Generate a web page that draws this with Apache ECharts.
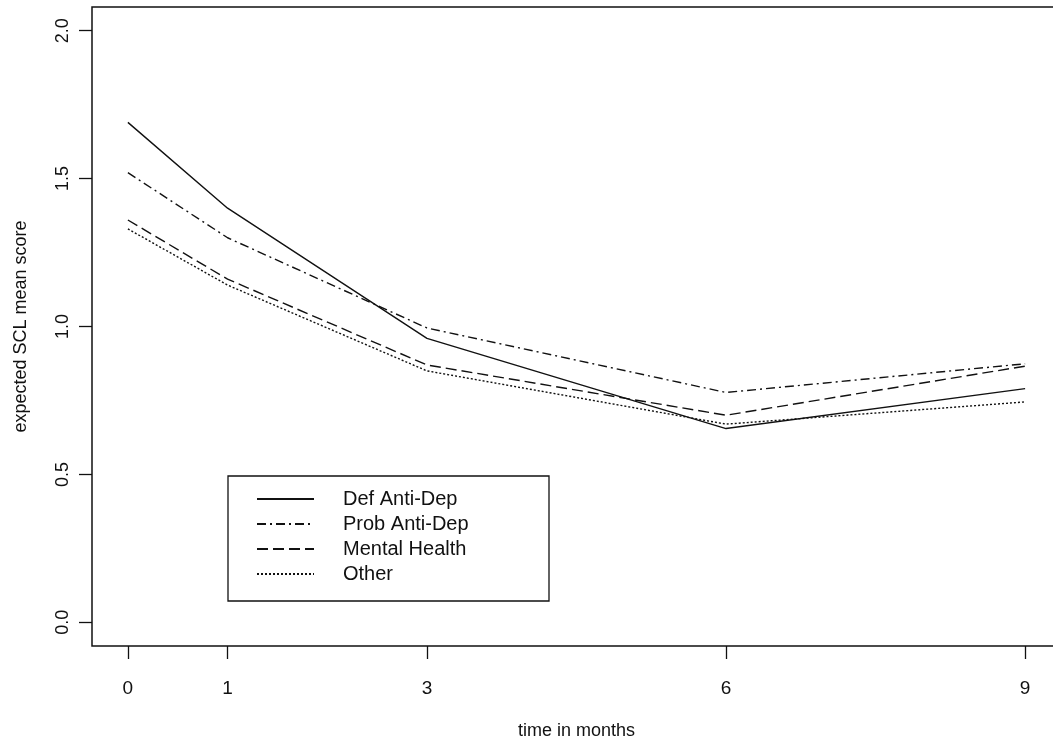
<!DOCTYPE html>
<html>
<head>
<meta charset="utf-8">
<script src="https://cdn.jsdelivr.net/npm/echarts@6/dist/echarts.min.js"></script>
<style>
  html, body { margin: 0; padding: 0; background: #fff; }
  #chart { width: 1053px; height: 742px; }
</style>
</head>
<body>
<div id="chart"></div>
<script>
// months of follow-up
const months = [0, 1, 3, 6, 9];
// expected SCL mean score per group
const defAntiDep = [1.69, 1.40, 0.96, 0.655, 0.79];
const probAntiDep = [1.52, 1.30, 0.995, 0.777, 0.874];
const mentalHealth = [1.36, 1.16, 0.87, 0.70, 0.866];
const other = [1.33, 1.14, 0.85, 0.67, 0.745];
const yTicks = [0, 0.5, 1.0, 1.5, 2.0];

const font = 'Liberation Sans, Arial, Helvetica, sans-serif';
const ink = '#111';

function pairs(ys) {
    return months.map((m, i) => [m, ys[i]]);
}

function line(name, ys, type) {
    return {
        name: name,
        type: 'line',
        data: pairs(ys),
        symbol: 'none',
        silent: true,
        itemStyle: { color: ink },
        lineStyle: { color: ink, width: 1.4, type: type }
    };
}

const chart = echarts.init(document.getElementById('chart'));
chart.setOption({
    animation: false,
    backgroundColor: '#fff',
    grid: {
        left: 92, top: 7, width: 969, height: 639,
        outerBoundsMode: 'none', containLabel: false,
        show: true, borderColor: ink, borderWidth: 1.5, backgroundColor: 'transparent'
    },
    legend: {
        left: 228, top: 476, orient: 'vertical',
        padding: [13, 14, 17, 28],
        itemWidth: 57, itemHeight: 20, itemGap: 5,
        borderColor: ink, borderWidth: 1.3, borderRadius: 0,
        selectedMode: false,
        itemStyle: { opacity: 0 },
        textStyle: { fontFamily: font, fontSize: 20, color: ink, lineHeight: 20, width: 192, padding: [0, 0, 0, 24] },
        data: ['Def Anti-Dep', 'Prob Anti-Dep', 'Mental Health', 'Other']
    },
    xAxis: {
        type: 'value', min: -0.36, max: 9.36,
        name: 'time in months', nameLocation: 'middle', nameGap: 76,
        nameTextStyle: { fontFamily: font, fontSize: 18, color: ink },
        axisLine: { show: false, onZero: false },
        splitLine: { show: false },
        axisTick: { show: true, length: 13, customValues: months, lineStyle: { color: ink, width: 1.3 } },
        axisLabel: { customValues: months, margin: 33, fontFamily: font, fontSize: 19, color: ink }
    },
    yAxis: {
        type: 'value', min: -0.08, max: 2.08,
        name: 'expected SCL mean score', nameLocation: 'middle', nameGap: 62,
        nameTextStyle: { fontFamily: font, fontSize: 18, color: ink },
        axisLine: { show: false, onZero: false },
        splitLine: { show: false },
        axisTick: { show: true, length: 13, customValues: yTicks, lineStyle: { color: ink, width: 1.3 } },
        axisLabel: {
            customValues: yTicks, rotate: 90, margin: 20,
            fontFamily: font, fontSize: 18, color: ink,
            formatter: v => v.toFixed(1)
        }
    },
    series: [
        line('Def Anti-Dep', defAntiDep, 'solid'),
        line('Prob Anti-Dep', probAntiDep, [9, 4, 2, 4]),
        line('Mental Health', mentalHealth, [11, 5]),
        line('Other', other, [2, 2])
    ]
});
</script>
</body>
</html>
